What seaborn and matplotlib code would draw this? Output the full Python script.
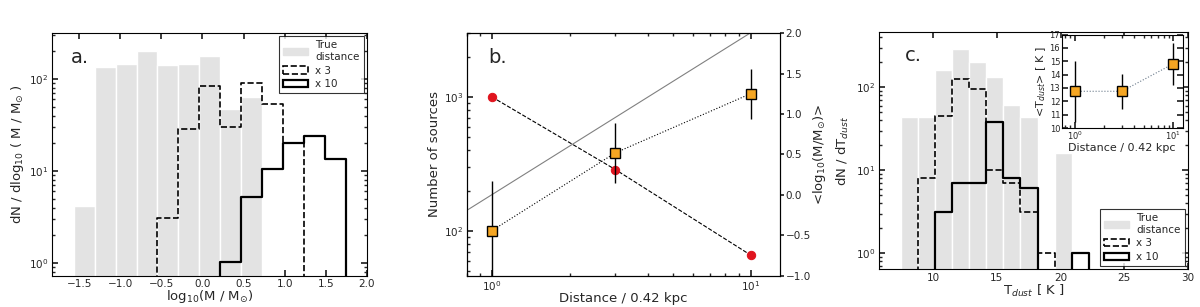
import numpy as np
import pandas as pd
import matplotlib
matplotlib.use("Agg")
import matplotlib.pyplot as plt
from matplotlib.patches import Patch
import seaborn as sns

# panel a: mass histograms (dN / dlog10 M)
mass_edges = [-1.565, -1.31, -1.056, -0.801, -0.547, -0.292, -0.038,
              0.217, 0.471, 0.726, 0.98, 1.235, 1.489, 1.744, 1.998]
mass_true = [4.2, 135, 147, 201, 141, 147, 178, 47, 63, 0, 0, 0, 0, 0]
mass_x3 = [0, 0, 0, 0, 3.06, 28.4, 84.6, 30.3, 91, 54, 20, 0, 0, 0]
mass_x10 = [0, 0, 0, 0, 0, 0, 0, 1.03, 5.2, 10.4, 20, 23.8, 13.5, 0]

# panel b: number of sources and mean mass vs distance
dist = [1, 3, 10]
n_sources = [1000, 287, 66]
mean_logm = [-0.44, 0.52, 1.25]
mean_logm_err = [0.61, 0.37, 0.31]
model_dist = [0.8, 13]
model_logm = [-0.19, 2.23]

# panel c: dust temperature histograms
temp_edges = [7.44, 8.78, 10.13, 11.47, 12.82, 14.16, 15.5, 16.85,
              18.19, 19.54, 20.88, 22.22, 23.57]
temp_true = [43.5, 43.5, 161, 289, 203, 132, 61, 43.5, 0, 16, 0, 0]
temp_x3 = [0, 8.0, 45.5, 125, 94.6, 10.1, 7.1, 3.1, 1.0, 0, 0, 0]
temp_x10 = [0, 0, 3.1, 7.1, 7.1, 38.5, 8.0, 6.07, 0, 0, 1.0, 0]

# inset: mean dust temperature vs distance
mean_tdust = [12.75, 12.75, 14.8]
mean_tdust_err = [2.3, 1.3, 1.6]

GREY = "#e3e3e3"
ORANGE = "#f5a623"

sns.set_theme(style="ticks")
plt.rcParams["font.family"] = ["DejaVu Sans"]
plt.rcParams["mathtext.fontset"] = "dejavusans"
plt.rcParams.update({
    "xtick.direction": "in", "ytick.direction": "in",
    "xtick.labelsize": 7.5, "ytick.labelsize": 7.5,
    "xtick.major.pad": 2.5, "ytick.major.pad": 2.5,
    "axes.labelsize": 9.5, "axes.edgecolor": "black",
    "axes.linewidth": 0.8,
    "xtick.major.size": 4, "ytick.major.size": 4,
    "xtick.minor.size": 2, "ytick.minor.size": 2,
})


def draw_hists(ax, edges, true_vals, x3_vals, x10_vals):
    centers = [(lo + hi) / 2 for lo, hi in zip(edges[:-1], edges[1:])]
    df = pd.DataFrame({"x": centers, "true": true_vals,
                       "x3": x3_vals, "x10": x10_vals})
    ax.set_yscale("log")
    sns.histplot(data=df, x="x", weights="true", bins=list(edges), ax=ax,
                 color=GREY, alpha=1, edgecolor="white", linewidth=1)
    sns.histplot(data=df, x="x", weights="x3", bins=list(edges), ax=ax,
                 element="step", fill=False, color="black",
                 linestyle="--", linewidth=1.2)
    sns.histplot(data=df, x="x", weights="x10", bins=list(edges), ax=ax,
                 element="step", fill=False, color="black", linewidth=1.6)
    ax.set_ylabel("")
    ax.tick_params(which="both", top=True, right=True)


def hist_legend(ax, loc):
    handles = [Patch(facecolor=GREY, edgecolor=GREY, label="True\ndistance"),
               Patch(facecolor="white", edgecolor="black", linestyle="--",
                     linewidth=1.2, label="x 3"),
               Patch(facecolor="white", edgecolor="black", linewidth=1.6,
                     label="x 10")]
    leg = ax.legend(handles=handles, loc=loc, fontsize=7.5, frameon=True,
                    fancybox=False, edgecolor="black", handlelength=2.4,
                    borderaxespad=0.3, labelspacing=0.35, handletextpad=0.7)
    leg.get_frame().set_linewidth(0.8)


fig = plt.figure(figsize=(12, 3.07), dpi=100)

# ---- panel a
ax_a = fig.add_axes([0.0433, 0.101, 0.2625, 0.7915])
draw_hists(ax_a, mass_edges, mass_true, mass_x3, mass_x10)
ax_a.set_xlim(-1.83, 2.0)
ax_a.set_ylim(0.72, 316)
ax_a.set_xticks([-1.5, -1.0, -0.5, 0.0, 0.5, 1.0, 1.5, 2.0])
ax_a.set_xlabel(r"log$_{10}$(M / M$_{\odot}$)", labelpad=-1)
ax_a.set_ylabel(r"dN / dlog$_{10}$ ( M / M$_{\odot}$ )", labelpad=2)
ax_a.text(0.06, 0.9, "a.", transform=ax_a.transAxes, fontsize=14, va="center")
hist_legend(ax_a, "upper right")

# ---- panel b
ax_b = fig.add_axes([0.389, 0.101, 0.261, 0.7915])
ax_b.set_xscale("log")
ax_b.set_yscale("log")
sns.lineplot(x=dist, y=n_sources, ax=ax_b, color="black", linestyle="--",
             linewidth=0.8, marker="o", markersize=6,
             markerfacecolor="#e0141e", markeredgecolor="#e0141e")
ax_b.set_xlim(0.8, 13)
ax_b.set_ylim(46, 3000)
ax_b.tick_params(which="both", top=True, right=False)
ax_b.set_xlabel("Distance / 0.42 kpc", labelpad=-1)
ax_b.set_ylabel("Number of sources", labelpad=2)
ax_b.text(0.07, 0.9, "b.", transform=ax_b.transAxes, fontsize=14, va="center")

ax_b2 = ax_b.twinx()
sns.lineplot(x=model_dist, y=model_logm, ax=ax_b2, color="grey", linewidth=0.8)
sns.lineplot(x=dist, y=mean_logm, ax=ax_b2, color="black", linestyle=":",
             linewidth=0.8)
ax_b2.errorbar(dist, mean_logm, yerr=mean_logm_err, fmt="s", color="black",
               ecolor="black", elinewidth=1, markersize=6.5,
               markerfacecolor=ORANGE, markeredgecolor="black", capsize=0)
ax_b2.set_ylim(-1.0, 2.0)
ax_b2.set_xlim(0.8, 13)
ax_b2.set_yticks([-1.0, -0.5, 0.0, 0.5, 1.0, 1.5, 2.0])
ax_b2.tick_params(axis="y", direction="out", length=3, pad=1)
ax_b2.set_ylabel(r"<log$_{10}$(M/M$_{\odot}$)>", labelpad=0)

# ---- panel c
ax_c = fig.add_axes([0.7325, 0.1228, 0.2573, 0.772])
draw_hists(ax_c, temp_edges, temp_true, temp_x3, temp_x10)
ax_c.set_xlim(5.73, 30)
ax_c.set_ylim(0.64, 460)
ax_c.set_xticks([10, 15, 20, 25, 30])
ax_c.set_xlabel(r"T$_{dust}$ [ K ]", labelpad=0)
ax_c.set_ylabel(r"dN / dT$_{dust}$", labelpad=4)
ax_c.text(0.085, 0.9, "c.", transform=ax_c.transAxes, fontsize=14, va="center")
hist_legend(ax_c, "lower right")

# inset
ax_in = fig.add_axes([0.8846, 0.583, 0.1012, 0.3046])
ax_in.set_xscale("log")
sns.lineplot(x=dist, y=mean_tdust, ax=ax_in, color="#6a7a8a", linestyle=":",
             linewidth=0.8)
ax_in.errorbar(dist, mean_tdust, yerr=mean_tdust_err, fmt="s", color="black",
               ecolor="black", elinewidth=1, markersize=7,
               markerfacecolor=ORANGE, markeredgecolor="black", capsize=0)
ax_in.set_xlim(0.73, 12.6)
ax_in.set_ylim(10, 17)
ax_in.set_yticks(range(10, 18))
ax_in.tick_params(which="both", labelsize=6, top=True, right=True, pad=1)
ax_in.set_xlabel("Distance / 0.42 kpc", fontsize=8, labelpad=0.5)
ax_in.set_ylabel(r"<T$_{dust}$> [ K ]", fontsize=8, labelpad=1)

fig.savefig("out.png", dpi=100)
